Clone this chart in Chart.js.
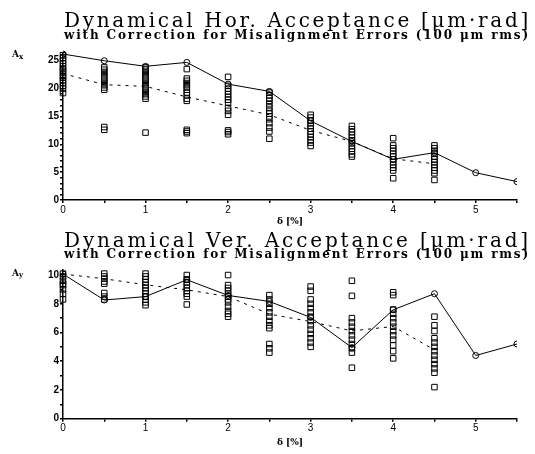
<!DOCTYPE html>
<html>
<head>
<meta charset="utf-8">
<script src="https://cdn.jsdelivr.net/npm/chart.js@4.4.0/dist/chart.umd.min.js"></script>
<style>
  body { margin: 0; background: #fff; }
  #wrap { position: relative; width: 535px; height: 454px; }
  .box { position: absolute; left: 0; width: 535px; height: 227px; }
</style>
</head>
<body>
<div id="wrap">
  <div class="box" style="top:0"><canvas id="hor"></canvas></div>
  <div class="box" style="top:227px"><canvas id="ver"></canvas></div>
</div>
<script>
// ---------------- data ----------------
var deltas = [0, 0.5, 1, 1.5, 2, 2.5, 3, 3.5, 4, 4.5, 5, 5.5];

// horizontal: no errors (solid), mean of seeds (dashed), seeds (squares)
var horIdeal = [26.2, 25.0, 24.0, 24.7, 20.8, 19.5, 14.2, 10.5, 7.3, 8.5, 4.9, 3.3];
var horMean  = [22.7, 20.7, 20.4, 18.5, 16.9, 15.3, 12.5, 10.5, 7.4, 6.5];
var horSeeds = [
  [19.2, 20.0, 20.5, 21.0, 21.5, 22.0, 22.3, 22.8, 23.2, 23.6, 24.0, 24.5, 25.0, 25.5, 26.0],
  [19.8, 20.2, 20.6, 21.0, 21.4, 21.8, 22.2, 22.6, 23.0, 23.4, 23.8, 12.6, 13.1],
  [18.2, 18.6, 19.0, 19.4, 19.8, 20.2, 20.6, 21.0, 21.4, 21.8, 22.2, 22.6, 23.0, 23.4, 23.8, 12.1],
  [23.5, 21.8, 21.4, 21.0, 20.6, 20.2, 19.8, 19.3, 18.8, 18.2, 17.8, 12.0, 12.3, 12.6],
  [22.1, 20.5, 20.0, 19.5, 19.0, 18.5, 18.0, 17.5, 16.5, 16.0, 15.3, 11.8, 12.2, 12.5],
  [19.3, 18.8, 18.3, 17.8, 17.2, 16.6, 16.0, 15.5, 15.0, 14.5, 13.8, 13.0, 12.3, 11.0],
  [15.3, 14.8, 14.3, 13.8, 13.3, 12.8, 12.3, 11.8, 11.3, 10.8, 10.3, 9.7],
  [13.3, 12.7, 12.2, 11.7, 11.2, 10.7, 10.2, 9.7, 9.2, 8.7, 8.2, 7.8],
  [11.1, 9.8, 9.3, 8.8, 8.3, 7.8, 7.3, 6.8, 6.3, 5.8, 5.3, 3.9],
  [9.8, 9.3, 8.8, 8.3, 7.8, 7.3, 6.8, 6.3, 5.8, 5.3, 4.8, 3.6]
];

// vertical
var verIdeal = [10.07, 8.26, 8.5, 9.67, 8.58, 8.16, 7.05, 4.95, 7.58, 8.7, 4.4, 5.2];
var verMean  = [10.07, 9.74, 9.32, 8.97, 8.5, 7.28, 6.76, 6.11, 6.42, 4.79];
var verSeeds = [
  [8.3, 8.7, 9.0, 9.3, 9.4, 9.6, 9.9, 10.1],
  [10.1, 9.9, 9.75, 9.55, 9.4, 8.75, 8.5, 8.3],
  [10.1, 9.9, 9.7, 9.5, 9.3, 9.1, 8.9, 8.7, 8.5, 8.3, 8.1, 7.9],
  [10.0, 9.7, 9.5, 9.3, 9.1, 8.9, 8.7, 8.5, 7.95],
  [10.0, 9.3, 9.1, 8.9, 8.7, 8.5, 8.3, 8.1, 7.8, 7.5, 7.3, 7.1],
  [8.6, 8.3, 8.0, 7.7, 7.4, 7.1, 6.8, 6.5, 6.3, 5.2, 4.9, 4.6],
  [9.2, 8.9, 8.3, 8.0, 7.7, 7.4, 7.1, 6.8, 6.5, 6.2, 5.9, 5.6, 5.3, 5.0],
  [9.6, 8.55, 7.0, 6.7, 6.4, 6.1, 5.8, 5.5, 5.2, 4.9, 4.6, 3.55],
  [8.8, 8.6, 7.6, 7.3, 7.0, 6.7, 6.4, 6.1, 5.8, 5.5, 5.1, 4.7, 4.2],
  [7.1, 6.5, 6.1, 5.6, 5.3, 5.0, 4.7, 4.4, 4.1, 3.8, 3.5, 3.2, 2.2]
];

// ---------------- helpers ----------------
function toPoints(ys) {
  return ys.map(function (y, i) { return { x: deltas[i], y: y }; });
}
function seedPoints(cols) {
  var pts = [];
  cols.forEach(function (col, i) {
    col.forEach(function (y) { pts.push({ x: deltas[i], y: y }); });
  });
  return pts;
}

// spread text over a given width (old plot package look)
function fitText(ctx, text, font, x, y, width) {
  ctx.font = font;
  if ('letterSpacing' in ctx) {
    ctx.letterSpacing = '0px';
    var w = ctx.measureText(text).width;
    ctx.letterSpacing = ((width - w) / text.length) + 'px';
  }
  ctx.fillText(text, x, y);
  if ('letterSpacing' in ctx) ctx.letterSpacing = '0px';
}

var headPlugin = {
  id: 'head',
  afterDraw: function (chart, args, opts) {
    var ctx = chart.ctx;
    ctx.save();
    ctx.fillStyle = '#000';
    ctx.textAlign = 'left';
    ctx.textBaseline = 'alphabetic';
    fitText(ctx, opts.title, '20px "DejaVu Serif"', 64, opts.titleY, 467);
    fitText(ctx, opts.sub, 'bold 12px "DejaVu Serif"', 64, opts.subY, 466);
    ctx.font = 'bold 9px "DejaVu Serif"';
    ctx.fillText('A', 12, opts.axisY);
    ctx.font = 'bold 7px "DejaVu Serif"';
    ctx.fillText(opts.axisSub, 19, opts.axisY + 1.5);
    ctx.restore();
  }
};

function makeChart(id, ideal, mean, seeds, yMax, labelEvery, head, padTop, padBottom, xHeight) {
  return new Chart(document.getElementById(id), {
    type: 'scatter',
    data: {
      datasets: [{
        data: toPoints(ideal),
        showLine: true,
        borderColor: '#000',
        borderWidth: 1,
        pointStyle: 'circle',
        pointRadius: 3,
        pointBorderColor: '#000',
        pointBackgroundColor: 'rgba(0,0,0,0)',
        pointBorderWidth: 1,
        clip: { left: 0, right: 0, top: 6, bottom: 6 }
      }, {
        data: toPoints(mean),
        showLine: true,
        borderColor: '#000',
        borderWidth: 1,
        borderDash: [3, 5],
        pointRadius: 0,
        clip: false
      }, {
        data: seedPoints(seeds),
        showLine: false,
        pointStyle: 'rect',
        pointRadius: 3.9,
        pointBorderColor: '#000',
        pointBorderWidth: 1,
        pointBackgroundColor: 'rgba(0,0,0,0)',
        clip: false
      }]
    },
    options: {
      responsive: true,
      maintainAspectRatio: false,
      animation: false,
      events: [],
      layout: { padding: { top: padTop, right: 18, bottom: padBottom, left: 0 } },
      plugins: {
        legend: { display: false },
        tooltip: { enabled: false },
        head: head
      },
      scales: {
        x: {
          type: 'linear',
          min: 0,
          max: 5.5,
          afterFit: function (s) { s.height = xHeight; },
          border: { color: '#000', width: 1.5 },
          grid: { drawOnChartArea: false, drawTicks: true, tickLength: 3, color: '#000', lineWidth: 1.5 },
          ticks: {
            stepSize: 0.5,
            autoSkip: false,
            maxRotation: 0,
            padding: 1,
            color: '#000',
            font: { family: 'Liberation Sans', size: 10 },
            callback: function (v) { return Number.isInteger(v) ? String(v) : ''; }
          },
          title: {
            display: true,
            text: 'δ [%]',
            color: '#000',
            padding: { top: 0, bottom: 0 },
            font: { family: 'DejaVu Serif', size: 9, weight: 'bold' }
          }
        },
        y: {
          min: 0,
          max: yMax,
          afterFit: function (s) { s.width = 63; },
          afterBuildTicks: function (s) {
            s.ticks = s.ticks.filter(function (t) { return Number.isInteger(t.value); });
          },
          border: { color: '#000', width: 1.5 },
          grid: { drawOnChartArea: false, drawTicks: true, tickLength: 3, color: '#000', lineWidth: 1.5 },
          ticks: {
            stepSize: 1,
            includeBounds: false,
            autoSkip: false,
            padding: 1,
            color: '#000',
            font: { family: 'Liberation Sans', size: 10, weight: 'bold' },
            callback: function (v) { return v % labelEvery === 0 ? String(v) : ''; }
          }
        }
      }
    },
    plugins: [headPlugin]
  });
}

makeChart('hor', horIdeal, horMean, horSeeds, 26.3, 5, {
  title: 'Dynamical Hor. Acceptance [μm·rad]',
  sub: 'with Correction for Misalignment Errors (100 μm rms)',
  titleY: 27, subY: 38.5, axisY: 57.3, axisSub: 'x'
}, 53.5, 0, 27);

makeChart('ver', verIdeal, verMean, verSeeds, 10.35, 2, {
  title: 'Dynamical Ver. Acceptance [μm·rad]',
  sub: 'with Correction for Misalignment Errors (100 μm rms)',
  titleY: 20, subY: 31, axisY: 48.7, axisSub: 'y'
}, 43, 6.3, 29);
</script>
</body>
</html>
